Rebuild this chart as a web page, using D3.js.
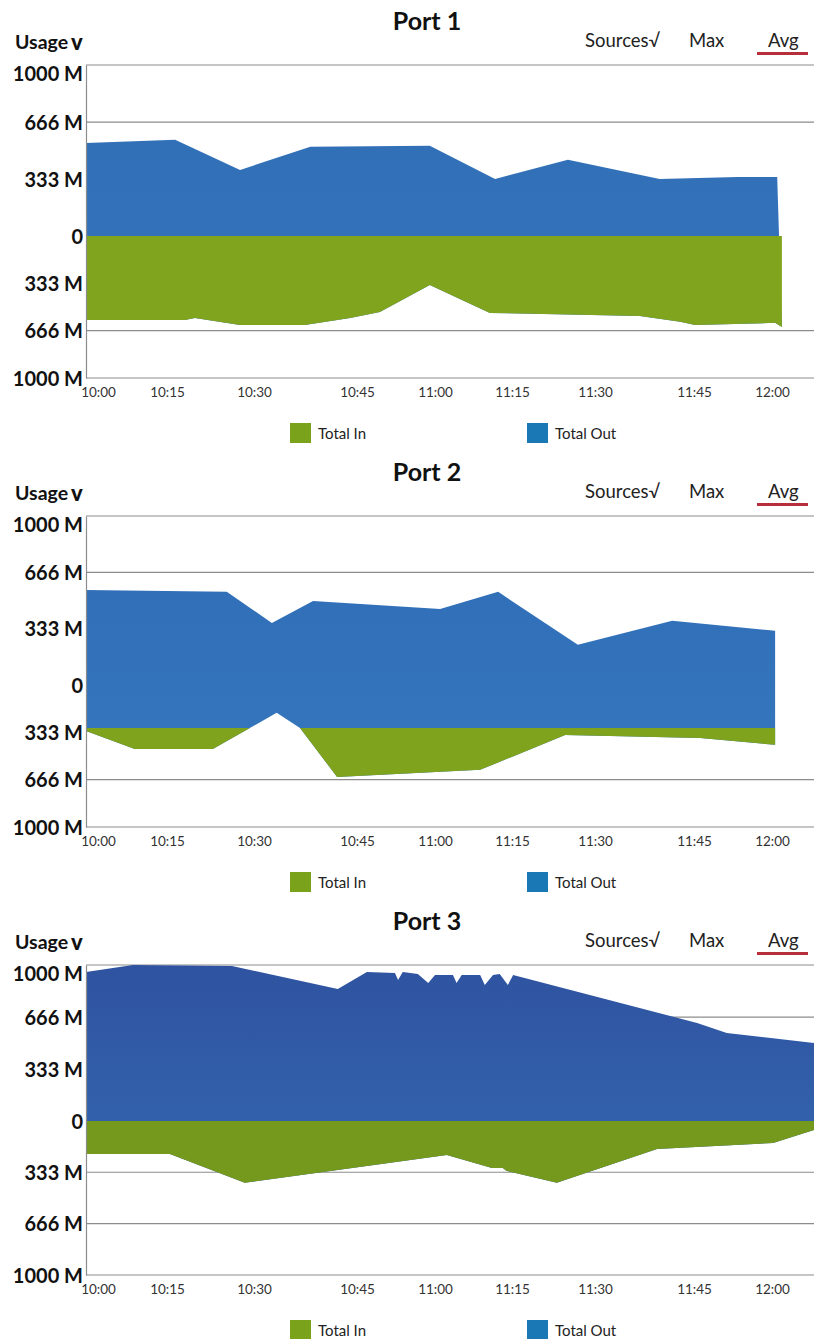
<!DOCTYPE html>
<html><head><meta charset="utf-8">
<script src="https://cdn.jsdelivr.net/npm/d3@7"></script>
<style>
html,body{margin:0;padding:0;background:#fff;}
svg{display:block;font-family:Lato,"Open Sans",sans-serif;}
</style>
</head><body>
<svg id="c" width="814" height="1339"></svg>
<script>
// ---------- data ----------
const portNames = ["Port 1", "Port 2", "Port 3"];
const seriesNames = ["Total In", "Total Out"];
const xTickMinutes = [0, 15, 30, 45, 60, 75, 90, 105, 120];
const xTickLabels = ["10:00","10:15","10:30","10:45","11:00","11:15","11:30","11:45","12:00"];
const yTickValues = [1000, 666, 333, 0, -333, -666, -1000];
const baselines = [0, -303, 0];           // where Out meets In (M)
const gridValues = [[666, -666], [666, -666], [666, -333, -666]];

// Port 1 (minutes after 10:00, value in M; In shown negative)
const p1OutMin = [-2.6, 16.4, 27.6, 38.2, 59, 71.7, 85.1, 99.8, 113.3, 121];
const p1Out    = [544, 562, 386, 521, 527, 333, 445, 333, 345, 345];
const p1InMin  = [-2.6, 18.1, 19.8, 27.6, 37.4, 44, 49.4, 59, 70.7, 96.8, 102.9, 105.2, 120.6, 121.9];
const p1In     = [-591, -591, -577, -627, -627, -577, -535, -345, -542, -563, -605, -627, -612, -641];

// Port 2
const p2OutMin = [-2.6, 25.3, 32.6, 38.6, 61, 72.3, 86.9, 101.7, 120.6];
const p2Out    = [562, 551, 367, 497, 450, 551, 237, 379, 320];
const p2InMin  = [-2.6, 8, 22.9, 33.3, 36.7, 42.1, 68.8, 84.6, 106.2, 120.6];
const p2In     = [-324, -451, -451, -197, -303, -648, -598, -352, -373, -422];

// Port 3
const p3OutMin = [-2.6, 7.6, 26.2, 42.2, 46.9, 52.3, 52.9, 53.8, 56.7, 58.7, 60, 63.5, 64.2, 65.2, 68.8, 69.7, 71.3, 72.6, 74.2, 75.2, 105.6, 111.3, 128.1];
const p3Out    = [955, 1000, 994, 846, 955, 949, 904, 955, 942, 885, 936, 936, 885, 936, 936, 872, 936, 942, 872, 936, 628, 564, 500];
const p3InMin  = [-2.6, 15.5, 28.4, 62.3, 71.1, 73.2, 73.9, 83.1, 99.4, 120.2, 128.1];
const p3In     = [-214, -214, -402, -221, -305, -305, -324, -402, -182, -143, -58];

const outMins = [p1OutMin, p2OutMin, p3OutMin];
const outVals = [p1Out, p2Out, p3Out];
const inMins  = [p1InMin, p2InMin, p3InMin];
const inVals  = [p1In, p2In, p3In];

// ---------- layout ----------
const panels = [
  {top: 65,  bottom: 378,  zeroFrac: 0.546},
  {top: 516, bottom: 827,  zeroFrac: 0.543},
  {top: 965, bottom: 1275, zeroFrac: 0.503}
];
const plotLeft = 86, plotRight = 814;
const outColors = ["#3170b7", "#3170b8", "#2f53a0"];
const outColorsLow = ["#3574bc", "#3576bd", "#3466b0"];
const inColors = ["#80a41e", "#7fa31d", "#74991c"];
const legendColors = ["#7aa21a", "#1a79b4"];
const gridColor = "#8c8c8c";

const svg = d3.select("#c");
const defs = svg.append("defs");

// x scale: labelled ticks are unevenly spaced in the original
const x = d3.scaleLinear().domain(xTickMinutes)
  .range([98, 167, 254, 357, 435, 512, 595, 694, 772]);

panels.forEach((p, i) => {
  const g = svg.append("g");
  const zeroY = p.top + p.zeroFrac * (p.bottom - p.top);
  const y = d3.scaleLinear().domain([-1000, 0, 1000]).range([p.bottom, zeroY, p.top]);
  const base = baselines[i];

  // gridlines
  g.selectAll("line.grid").data([1000].concat(gridValues[i])).join("line")
    .attr("x1", plotLeft).attr("x2", plotRight)
    .attr("y1", d => y(d)).attr("y2", d => y(d))
    .attr("stroke", gridColor).attr("stroke-width", 1.2);

  // gradient for Out
  const gid = "og" + i;
  const grad = defs.append("linearGradient").attr("id", gid)
    .attr("x1", 0).attr("y1", 0).attr("x2", 0).attr("y2", 1);
  grad.append("stop").attr("offset", "0%").attr("stop-color", outColors[i]);
  grad.append("stop").attr("offset", "100%").attr("stop-color", outColorsLow[i]);

  // Out: polygon between Out line and In line
  const outPts = outMins[i].map((t, k) => [x(t), y(outVals[i][k])]);
  const inPts = inMins[i].map((t, k) => [x(t), y(inVals[i][k])]);
  g.append("path")
    .attr("d", d3.line()(outPts.concat(inPts.slice().reverse())) + "Z")
    .attr("fill", `url(#${gid})`);

  // In: area between baseline and In line, clipped below baseline
  const cid = "clip" + i;
  defs.append("clipPath").attr("id", cid).append("rect")
    .attr("x", plotLeft).attr("y", y(base))
    .attr("width", plotRight - plotLeft).attr("height", p.bottom - y(base));
  const inData = inMins[i].map((t, k) => ({t, v: inVals[i][k]}));
  g.append("path").datum(inData)
    .attr("clip-path", `url(#${cid})`)
    .attr("d", d3.area().x(d => x(d.t)).y0(d => y(d.v)).y1(y(base)))
    .attr("fill", inColors[i]);

  // vertical stripe texture (photo look)
  // y axis
  const ya = g.append("g").attr("transform", `translate(${plotLeft},0)`)
    .call(d3.axisLeft(y).tickValues(yTickValues).tickSize(0).tickPadding(3)
      .tickFormat(v => v === 0 ? "0" : Math.abs(v) + " M"));
  ya.select(".domain").attr("stroke", gridColor).attr("stroke-width", 1.2);
  ya.selectAll("text").attr("font-family", "Lato, sans-serif")
    .attr("font-size", 20).attr("font-weight", "bold").attr("fill", "#111")
    .attr("dy", v => v === 1000 ? "0.75em" : "0.36em");

  // bottom axis line
  g.append("line").attr("x1", plotLeft).attr("x2", plotRight)
    .attr("y1", p.bottom).attr("y2", p.bottom)
    .attr("stroke", gridColor).attr("stroke-width", 1.2);

  // x axis labels
  const xa = g.append("g").attr("transform", `translate(0,${p.bottom})`)
    .call(d3.axisBottom(x).tickValues(xTickMinutes).tickSize(0).tickPadding(9)
      .tickFormat((d, k) => xTickLabels[k]));
  xa.select(".domain").remove();
  xa.selectAll("text").attr("font-family", "Lato, sans-serif")
    .attr("font-size", 13.5).attr("fill", "#333");

  // header
  g.append("text").attr("x", 427).attr("y", p.top - 45)
    .attr("text-anchor", "middle").attr("dominant-baseline", "central")
    .attr("font-size", 25).attr("font-weight", "bold").attr("fill", "#111")
    .text(portNames[i]);
  const u = g.append("text").attr("x", 15).attr("y", p.top - 24)
    .attr("dominant-baseline", "central")
    .attr("font-size", 19.5).attr("font-weight", "bold").attr("fill", "#111");
  u.append("tspan").text("Usage");
  u.append("tspan").attr("dx", 3).attr("font-size", 22).attr("font-weight", 900).text("v");
  const ctrls = [{t: "Sources\u221A", x: 585}, {t: "Max", x: 689}, {t: "Avg", x: 768}];
  g.selectAll("text.ctrl").data(ctrls).join("text").attr("class", "ctrl")
    .attr("x", d => d.x).attr("y", p.top - 25).attr("dominant-baseline", "central")
    .attr("font-size", 18.5).attr("fill", "#222").text(d => d.t);
  g.append("rect").attr("x", 757).attr("y", p.top - 13).attr("width", 51).attr("height", 3)
    .attr("fill", "#b5303a");

  // legend
  const lx = [290, 527];
  const lg = g.selectAll("g.leg").data(seriesNames).join("g").attr("class", "leg")
    .attr("transform", (d, k) => `translate(${lx[k]},${p.bottom + 45})`);
  lg.append("rect").attr("width", 21).attr("height", 20).attr("fill", (d, k) => legendColors[k]);
  lg.append("text").attr("x", 28).attr("y", 10).attr("dominant-baseline", "central")
    .attr("font-size", 15).attr("fill", "#222").text(d => d);
});
</script>
</body></html>
